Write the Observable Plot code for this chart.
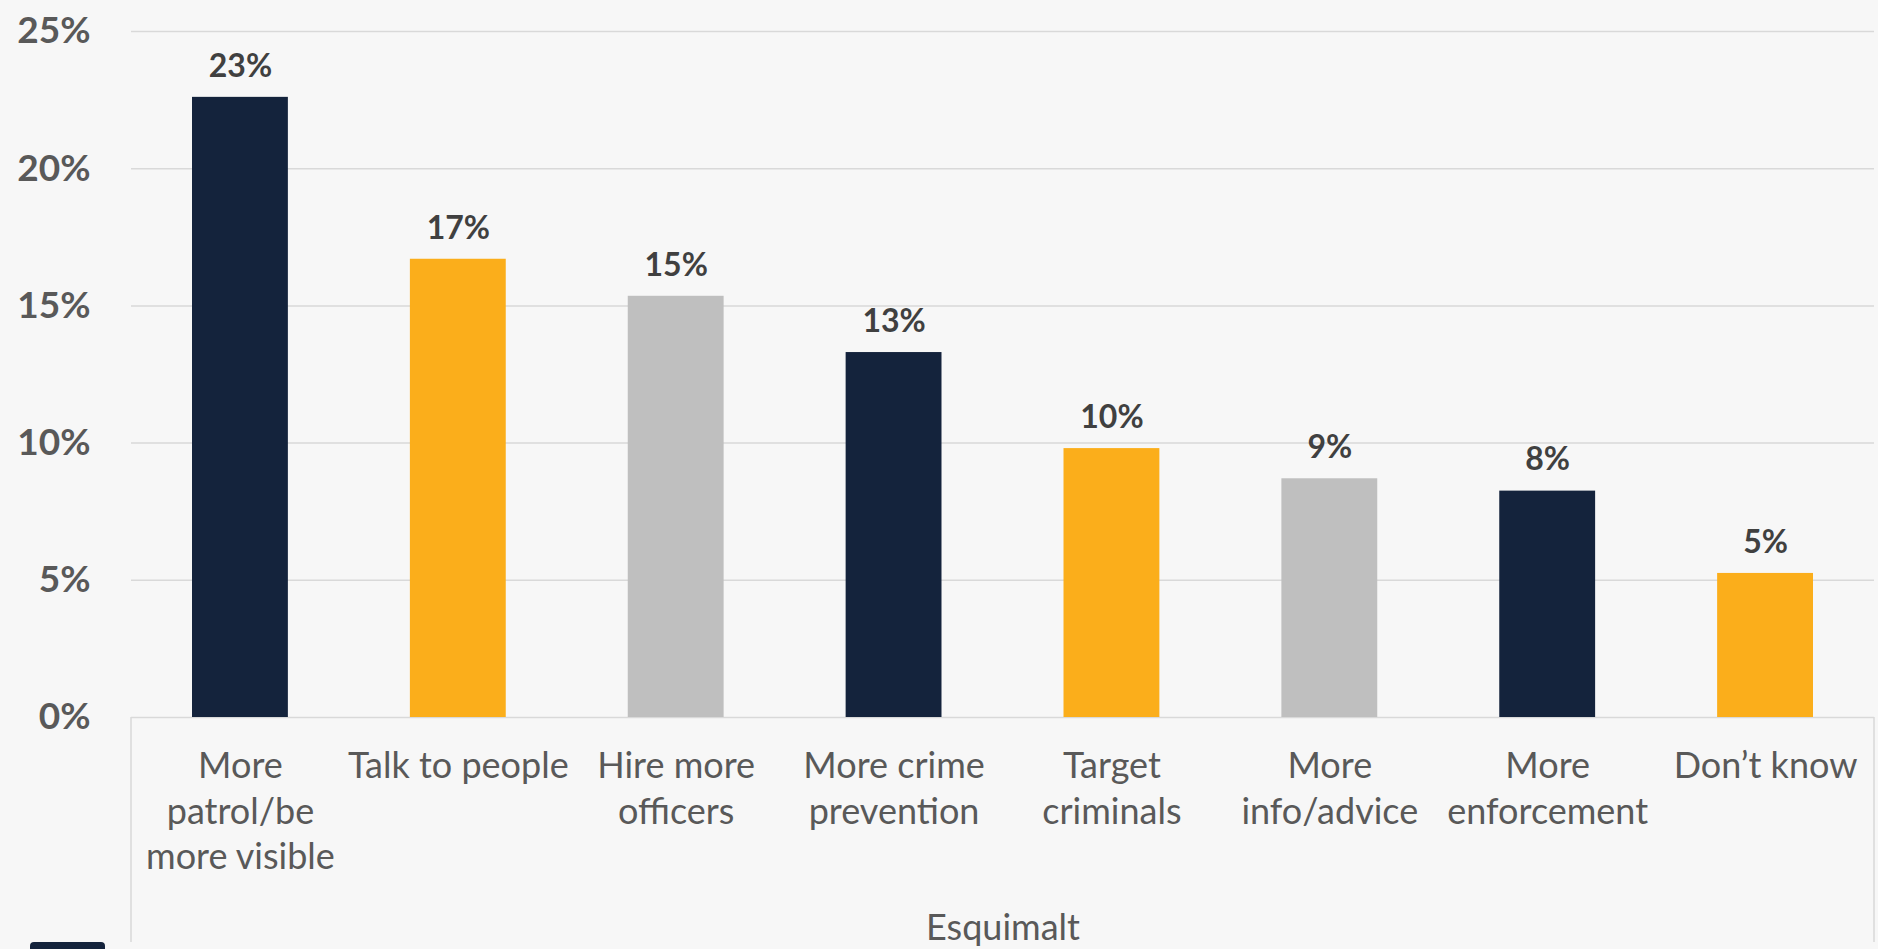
<!DOCTYPE html>
<html>
<head>
<meta charset="utf-8">
<script src="https://cdn.jsdelivr.net/npm/d3@7"></script>
<script src="https://cdn.jsdelivr.net/npm/@observablehq/plot@0.6"></script>
<style>
  html, body { margin: 0; padding: 0; background: #f7f7f7; overflow: hidden; }
  #chart svg { display: block; }
  .legend { position: relative; height: 40px; }
  .legend .swatch { position: absolute; left: 30px; top: 0; width: 75px; height: 30px; background: #14233c; border-radius: 4px; }
</style>
</head>
<body>
<div id="chart"></div>
<div class="legend"><span class="swatch" title="Esquimalt"></span></div>
<script>
// ---- data ----
const categories = [
  "More patrol/be more visible",
  "Talk to people",
  "Hire more officers",
  "More crime prevention",
  "Target criminals",
  "More info/advice",
  "More enforcement",
  "Don’t know"
];
const tickLabels = [
  "More\npatrol/be\nmore visible",
  "Talk to people",
  "Hire more\nofficers",
  "More crime\nprevention",
  "Target\ncriminals",
  "More\ninfo/advice",
  "More\nenforcement",
  "Don’t know"
];
const values = [22.6, 16.7, 15.35, 13.3, 9.8, 8.7, 8.25, 5.25];
const valueLabels = ["23%", "17%", "15%", "13%", "10%", "9%", "8%", "5%"];
const yTicks = [0, 5, 10, 15, 20, 25];
const axisTitle = "Esquimalt";

// ---- styles ----
const palette = ["#14233c", "#fbae1b", "#bfbfbf"];
const W = 1878, H = 942;

const data = categories.map((c, i) => ({category: c, value: values[i], label: valueLabels[i], group: i % 3}));

const chart = Plot.plot({
  width: W,
  height: H,
  marginLeft: 131,
  marginRight: 4,
  marginTop: 31,
  marginBottom: H - 717,
  style: {fontFamily: "Lato, 'Open Sans', sans-serif", fontSize: "36px", background: "transparent", overflow: "visible"},
  x: {domain: categories, paddingInner: 0.56, paddingOuter: 0.28, round: false, label: null},
  y: {domain: [0, 25], label: null},
  color: {type: "ordinal", domain: [0, 1, 2], range: palette},
  marks: [
    Plot.gridY({ticks: yTicks, stroke: "#d9d9d9", strokeOpacity: 1, strokeWidth: 1.5}),
    Plot.axisY({ticks: yTicks, tickSize: 0, tickPadding: 41, tickFormat: d => d + "%",
      fontSize: 37, fontWeight: "bold", color: "#595959", label: null}),
    Plot.axisX({tickSize: 0, tickPadding: 28, fontSize: 36, lineHeight: 1.27, color: "#595959",
      tickFormat: d => tickLabels[categories.indexOf(d)], label: null}),
    Plot.barY(data, {x: "category", y: "value", fill: "group"}),
    Plot.text(data, {x: "category", y: "value", text: "label", dy: -31, fontSize: 32,
      fontWeight: "bold", fill: "#404040"}),
    Plot.text([axisTitle], {frameAnchor: "bottom", lineAnchor: "middle", dy: 211, fontSize: 36, fill: "#595959"})
  ]
});

// Category-axis box (Excel multi-level axis border), positioned from the plot's own scales
const xs = chart.scale("x");
const ys = chart.scale("y");
const y0 = ys.apply(0);
const [xL, xR] = xs.range;
const svg = d3.select(chart);
svg.append("g")
  .attr("stroke", "#d9d9d9")
  .attr("stroke-width", 1.5)
  .selectAll("line")
  .data([xL, xR])
  .join("line")
  .attr("x1", d => d).attr("x2", d => d)
  .attr("y1", y0).attr("y2", H);

document.getElementById("chart").appendChild(chart);
</script>
</body>
</html>
